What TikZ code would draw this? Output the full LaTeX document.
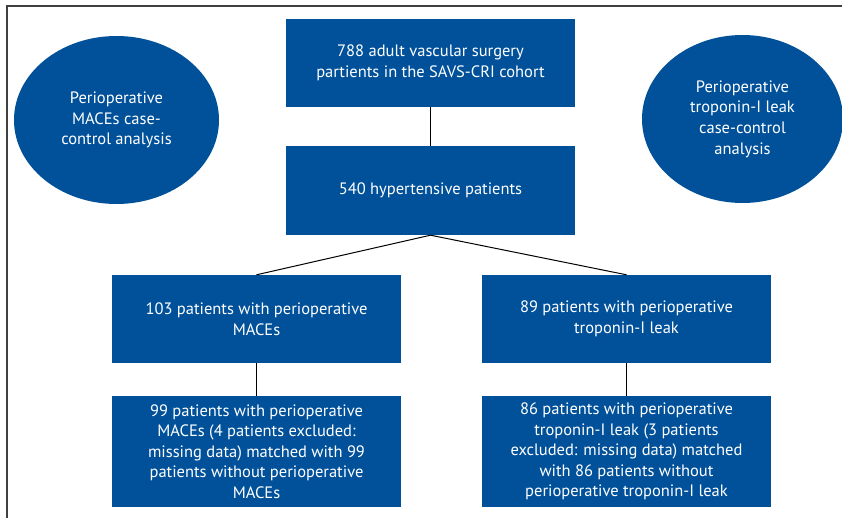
\documentclass[tikz,border=0pt]{standalone}
\usepackage{fontspec}
\setmainfont{PT Sans}
\usetikzlibrary{shapes.geometric}
\definecolor{flowblue}{RGB}{0,81,154}
\begin{document}
\begin{tikzpicture}[x=1pt,y=-1pt,
    box/.style={fill=flowblue,text=white,align=center,inner sep=0pt,minimum width=289,font=\fontsize{16.5}{20.6}\selectfont},
    oval/.style={ellipse,fill=flowblue,text=white,align=center,inner sep=0pt,minimum height=168,font=\fontsize{16.5}{20.6}\selectfont}]
\useasboundingbox (0,0) rectangle (842,518);
\draw[black!75,line width=1.3pt](842,6)--(7,6)--(7,518);
% ovals
\node[oval,minimum width=205](lc)at(116.5,120){Perioperative\\MACEs case-\\control analysis};
\node[oval,minimum width=201](rc)at(742.5,119){Perioperative\\troponin-I leak\\case-control\\analysis};
% boxes
\node[box,minimum height=88](a)at(430.5,63){788 adult vascular surgery\\partients in the SAVS-CRI cohort};
\node[box,minimum height=89](b)at(430.5,190.5){540 hypertensive patients};
\node[box,minimum height=88](c)at(256.5,319){103 patients with perioperative\\MACEs};
\node[box,minimum height=88](d)at(626.5,319){89 patients with perioperative\\troponin-I leak};
\node[box,minimum height=111](e)at(256.5,451.5){99 patients with perioperative\\MACEs (4 patients excluded:\\missing data) matched with 99\\patients without perioperative\\MACEs};
\node[box,minimum height=111](f)at(626.5,451.5){86 patients with perioperative\\troponin-I leak (3 patients\\excluded: missing data) matched\\with 86 patients without\\perioperative troponin-I leak};
\draw[line width=1pt](a)--(b);
\draw[line width=1pt](b.south)--(c.north);
\draw[line width=1pt](b.south)--(d.north);
\draw[line width=1pt](c)--(e);
\draw[line width=1pt](d)--(f);
\end{tikzpicture}
\end{document}
